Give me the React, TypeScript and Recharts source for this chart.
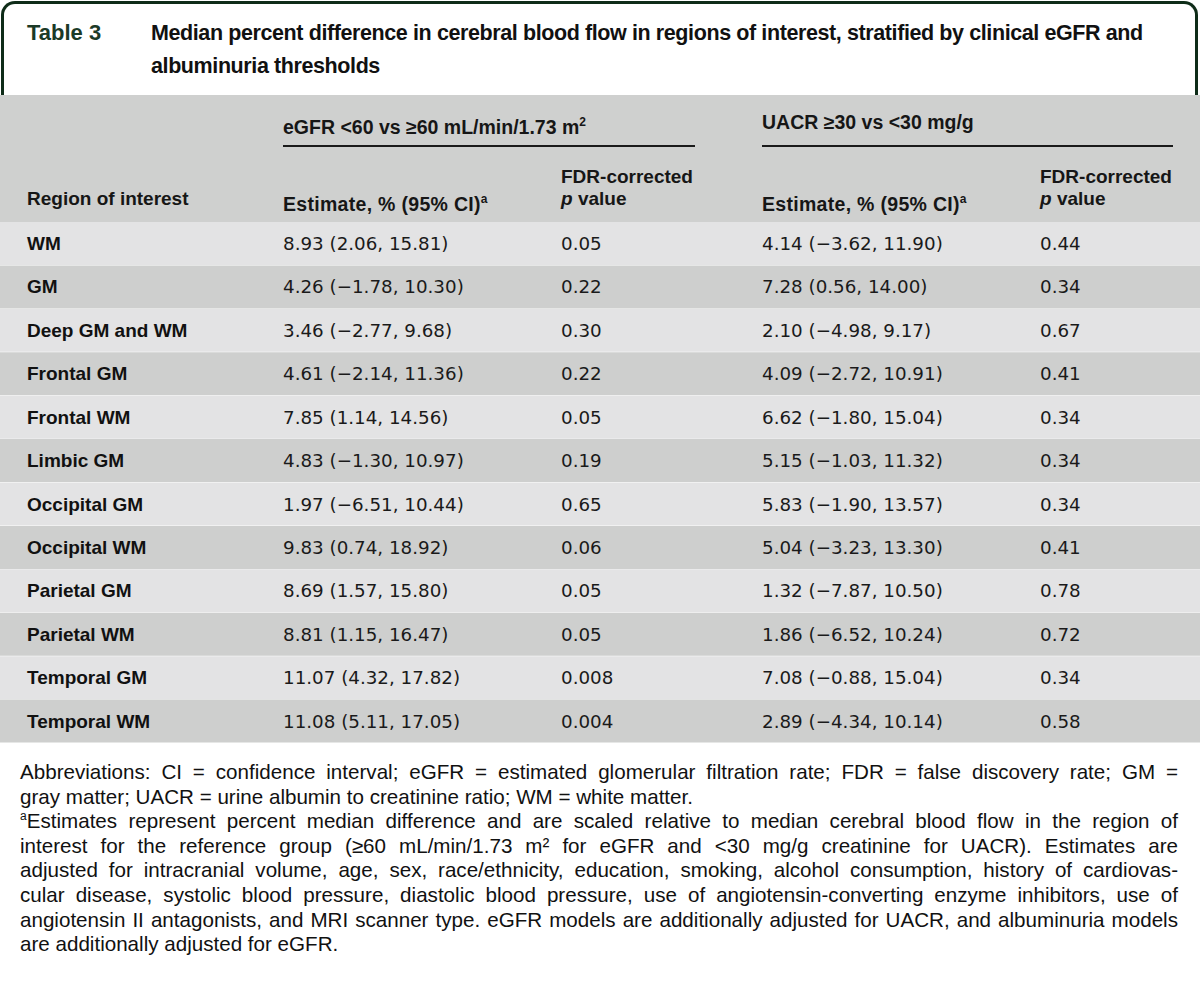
import { BarChart, Bar, XAxis, YAxis, Cell, LabelList } from 'recharts';

const regions = [
    'WM', 'GM', 'Deep GM and WM', 'Frontal GM', 'Frontal WM', 'Limbic GM',
    'Occipital GM', 'Occipital WM', 'Parietal GM', 'Parietal WM', 'Temporal GM', 'Temporal WM',
];

const egfrEstimate = [8.93, 4.26, 3.46, 4.61, 7.85, 4.83, 1.97, 9.83, 8.69, 8.81, 11.07, 11.08];
const egfrLower = [2.06, -1.78, -2.77, -2.14, 1.14, -1.3, -6.51, 0.74, 1.57, 1.15, 4.32, 5.11];
const egfrUpper = [15.81, 10.3, 9.68, 11.36, 14.56, 10.97, 10.44, 18.92, 15.8, 16.47, 17.82, 17.05];
const egfrP = ['0.05', '0.22', '0.30', '0.22', '0.05', '0.19', '0.65', '0.06', '0.05', '0.05', '0.008', '0.004'];

const uacrEstimate = [4.14, 7.28, 2.1, 4.09, 6.62, 5.15, 5.83, 5.04, 1.32, 1.86, 7.08, 2.89];
const uacrLower = [-3.62, 0.56, -4.98, -2.72, -1.8, -1.03, -1.9, -3.23, -7.87, -6.52, -0.88, -4.34];
const uacrUpper = [11.9, 14.0, 9.17, 10.91, 15.04, 11.32, 13.57, 13.3, 10.5, 10.24, 15.04, 10.14];
const uacrP = ['0.44', '0.34', '0.67', '0.41', '0.34', '0.34', '0.34', '0.41', '0.78', '0.72', '0.34', '0.58'];

const ROW_LIGHT = '#e3e3e4';
const ROW_DARK = '#cecfce';
const HEADER_BG = '#cfd0cf';
const GREEN = '#0e2c18';

const FONT = '"Liberation Sans", Arial, sans-serif';
const VALUE_FONT = '"DejaVu Sans", "Liberation Sans", sans-serif';

const COL_X = [27, 283, 561, 762, 1040];

const fmt = (v: number) => (v < 0 ? '\u2212' + Math.abs(v).toFixed(2) : v.toFixed(2));
const ci = (est: number, lo: number, hi: number) => `${fmt(est)} (${fmt(lo)}, ${fmt(hi)})`;

const rows = regions.map((region, i) => ({
    region,
    band: 1,
    egfr: ci(egfrEstimate[i], egfrLower[i], egfrUpper[i]),
    egfrP: egfrP[i],
    uacr: ci(uacrEstimate[i], uacrLower[i], uacrUpper[i]),
    uacrP: uacrP[i],
}));

// one table row drawn on top of its band
const RowText = (props: any) => {
    const { y, height, value } = props;
    const row = rows[regions.indexOf(value)];
    if (!row) return null;
    const cy = Number(y) + Number(height) / 2;
    const common = { y: cy, dominantBaseline: 'central' as const, fontFamily: VALUE_FONT, fontSize: 18.3, fill: '#1a1a1a' };
    return (
        <g>
            <text x={COL_X[0]} y={cy} dominantBaseline="central" fontFamily={FONT} fontSize={19} fontWeight={700} fill="#111">
                {row.region}
            </text>
            <text x={COL_X[1]} {...common}>{row.egfr}</text>
            <text x={COL_X[2]} {...common}>{row.egfrP}</text>
            <text x={COL_X[3]} {...common}>{row.uacr}</text>
            <text x={COL_X[4]} {...common}>{row.uacrP}</text>
        </g>
    );
};

const headText: React.CSSProperties = {
    position: 'absolute',
    fontFamily: FONT,
    fontWeight: 700,
    fontSize: 19.5,
    color: '#161616',
    lineHeight: '22px',
    whiteSpace: 'nowrap',
};

const footLines = [
    { text: 'Abbreviations: CI = confidence interval; eGFR = estimated glomerular filtration rate; FDR = false discovery rate; GM =', justify: true },
    { text: 'gray matter; UACR = urine albumin to creatinine ratio; WM = white matter.', justify: false },
    { text: 'Estimates represent percent median difference and are scaled relative to median cerebral blood flow in the region of', justify: true, sup: true },
    { text: 'interest for the reference group (\u226560 mL/min/1.73 m\u00b2 for eGFR and <30 mg/g creatinine for UACR). Estimates are', justify: true },
    { text: 'adjusted for intracranial volume, age, sex, race/ethnicity, education, smoking, alcohol consumption, history of cardiovas-', justify: true },
    { text: 'cular disease, systolic blood pressure, diastolic blood pressure, use of angiotensin-converting enzyme inhibitors, use of', justify: true },
    { text: 'angiotensin II antagonists, and MRI scanner type. eGFR models are additionally adjusted for UACR, and albuminuria models', justify: true },
    { text: 'are additionally adjusted for eGFR.', justify: false },
];

export default function App() {
    return (
        <div style={{ position: 'relative', width: 1200, height: 992, background: '#fff', overflow: 'hidden' }}>
            <style>{'body{margin:0}'}</style>

            <div
                style={{
                    position: 'absolute',
                    left: 1,
                    top: 1,
                    width: 1191,
                    height: 91,
                    border: `3px solid ${GREEN}`,
                    borderBottom: 'none',
                    borderRadius: '14px 14px 0 0',
                }}
            />
            <div style={{ ...headText, left: 27, top: 20, fontSize: 22, color: '#1b3a27', lineHeight: '26px' }}>Table 3</div>
            <div style={{ ...headText, left: 151, top: 17, fontSize: 21.5, letterSpacing: -0.4, color: '#111', lineHeight: '33px' }}>
                Median percent difference in cerebral blood flow in regions of interest, stratified by clinical eGFR and
                <br />
                albuminuria thresholds
            </div>

            <div style={{ position: 'absolute', left: 0, top: 95, width: 1200, height: 127, background: HEADER_BG }} />
            <div style={{ ...headText, left: 283, top: 111 }}>
                eGFR &lt;60 vs ≥60 mL/min/1.73 m<sup style={{ fontSize: 12 }}>2</sup>
            </div>
            <div style={{ position: 'absolute', left: 283, top: 145, width: 412, height: 2, background: '#1a1a1a' }} />
            <div style={{ ...headText, left: 762, top: 111 }}>UACR ≥30 vs &lt;30 mg/g</div>
            <div style={{ position: 'absolute', left: 762, top: 145, width: 411, height: 2, background: '#1a1a1a' }} />

            <div style={{ ...headText, left: 27, top: 188, fontSize: 19 }}>Region of interest</div>
            <div style={{ ...headText, left: 283, top: 188, letterSpacing: 0.3 }}>
                Estimate, % (95% CI)<sup style={{ fontSize: 12 }}>a</sup>
            </div>
            <div style={{ ...headText, left: 561, top: 166, fontSize: 19 }}>
                FDR-corrected
                <br />
                <i>p</i> value
            </div>
            <div style={{ ...headText, left: 762, top: 188, letterSpacing: 0.3 }}>
                Estimate, % (95% CI)<sup style={{ fontSize: 12 }}>a</sup>
            </div>
            <div style={{ ...headText, left: 1040, top: 166, fontSize: 19 }}>
                FDR-corrected
                <br />
                <i>p</i> value
            </div>

            <div style={{ position: 'absolute', left: 0, top: 222 }}>
                <BarChart
                    width={1200}
                    height={521}
                    data={rows}
                    layout="vertical"
                    margin={{ top: 0, right: 0, bottom: 0, left: 0 }}
                    barCategoryGap={0}
                >
                    <XAxis type="number" domain={[0, 1]} hide />
                    <YAxis type="category" dataKey="region" hide />
                    <Bar dataKey="band" isAnimationActive={false}>
                        {rows.map((_, i) => (
                            <Cell key={`row-${i}`} fill={i % 2 === 0 ? ROW_LIGHT : ROW_DARK} />
                        ))}
                        <LabelList dataKey="region" content={RowText} />
                    </Bar>
                </BarChart>
            </div>

            <div style={{ position: 'absolute', left: 20, top: 760, width: 1158, fontFamily: FONT, fontSize: 20.6, lineHeight: '24.6px', color: '#111' }}>
                {footLines.map((l, i) => (
                    <div
                        key={i}
                        style={{
                            textAlign: l.justify ? 'justify' : 'left',
                            textAlignLast: l.justify ? 'justify' : 'left',
                            whiteSpace: 'nowrap',
                        }}
                    >
                        {l.sup && <sup style={{ fontSize: 12, lineHeight: 0 }}>a</sup>}
                        {l.text}
                    </div>
                ))}
            </div>
        </div>
    );
}
